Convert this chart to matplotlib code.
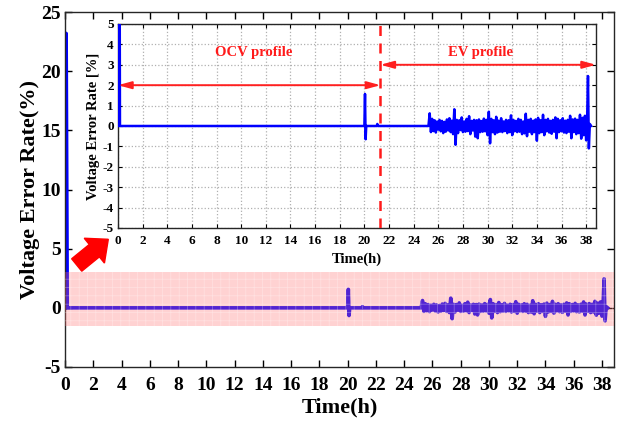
import numpy as np
import matplotlib
matplotlib.use("Agg")
import matplotlib.pyplot as plt
from matplotlib.patches import FancyArrow

plt.rcParams['font.family'] = ['Liberation Serif', 'DejaVu Serif']
plt.rcParams['font.weight'] = 'bold'
plt.rcParams['axes.labelweight'] = 'bold'
plt.rcParams['axes.unicode_minus'] = False
plt.rcParams['hatch.linewidth'] = 0.5

# ---------------- data ----------------
# quiet (OCV) part: time (h), error (%)
t_quiet = [0.0, 0.08, 0.16, 20.0, 20.05, 20.1, 20.15, 21.0, 21.05, 21.1, 25.2]
v_quiet = [0.0, 23.2, 0.0, 0.0, 1.57, -0.65, 0.0, 0.0, 0.1, 0.0, 0.0]

# EV profile part, sampled every 0.1 h from 25.3 h to 38.0 h
noise_start = 25.3
noise_step = 0.1
v_noise = [
    0.62, -0.30, 0.35, -0.25, 0.28, -0.32, 0.22, -0.18, 0.30, -0.26,
    0.25, -0.35, 0.20, -0.28, 0.32, -0.22, 0.38, -0.30, 0.26, -0.40,
    0.82, -0.92, 0.30, -0.35, 0.28, -0.20, 0.42, -0.30, 0.22, -0.28,
    0.35, -0.25, 0.48, -0.40, 0.25, -0.22, 0.30, -0.52, 0.28, -0.60,
    0.32, -0.30, 0.24, -0.28, 0.36, -0.26, 0.30, -0.45, 0.70, -0.85,
    0.35, -0.30, 0.28, -0.40, 0.45, -0.32, 0.26, -0.28, 0.38, -0.30,
    0.22, -0.25, 0.30, -0.35, 0.28, -0.30, 0.52, -0.45, 0.30, -0.26,
    0.25, -0.30, 0.35, -0.28, 0.30, -0.40, 0.22, -0.36, 0.60, -0.50,
    0.30, -0.28, 0.35, -0.40, 0.26, -0.30, 0.32, -0.72, 0.40, -0.35,
    0.28, -0.30, 0.55, -0.45, 0.30, -0.26, 0.35, -0.32, 0.25, -0.38,
    0.30, -0.28, 0.42, -0.60, 0.35, -0.30, 0.28, -0.26, 0.38, -0.32,
    0.26, -0.35, 0.30, -0.28, 0.50, -0.60, 0.32, -0.30, 0.36, -0.40,
    0.30, -0.35, 0.55, -0.62, 0.40, -0.45, 0.50, -0.70,
]
# end of test
t_end = [38.08, 38.15, 38.22, 38.3, 38.4]
v_end = [0.3, 2.45, -1.1, 0.1, 0.0]

t_noise = list(noise_start + noise_step * np.arange(len(v_noise)))
t_all = np.array(t_quiet + t_noise + t_end)
v_all = np.array(v_quiet + v_noise + v_end)

main_xticks = list(range(0, 40, 2))
main_yticks = [-5, 0, 5, 10, 15, 20, 25]
inset_yticks = [-5, -4, -3, -2, -1, 0, 1, 2, 3, 4, 5]

band_low, band_high = -1.5, 3.0
split_time = 21.3
x_max = 38.85

# ---------------- figure ----------------
fig = plt.figure(figsize=(6.22, 4.23), dpi=100)
ax = fig.add_axes([0.1045, 0.1324, 0.8826, 0.839])

ax.plot(t_all, v_all, color='#0000ff', lw=2.6, zorder=2)
ax.axhspan(band_low, band_high, facecolor=(1.0, 0.45, 0.45, 0.32), lw=0, zorder=3)
ax.axhspan(band_low, band_high, facecolor='none',
           edgecolor=(1.0, 1.0, 1.0, 0.35), hatch='++', lw=0, zorder=3)
ax.set_xlim(0, x_max)
ax.set_ylim(-5, 25)
ax.set_xticks(main_xticks)
ax.set_yticks(main_yticks)
ax.tick_params(direction='in', top=True, right=True, labelsize=14, length=5,
               width=1, pad=7)
ax.tick_params(axis='y', pad=3)
for lab in ax.get_xticklabels() + ax.get_yticklabels():
    lab.set_fontweight('bold')
ax.set_xlabel('Time(h)', fontsize=16, fontweight='bold', labelpad=3)
ax.set_ylabel('Voltage Error Rate(%)', fontsize=16, fontweight='bold', labelpad=1)
for s in ax.spines.values():
    s.set_linewidth(1.0)
    s.set_color('#262626')

# ---------------- inset ----------------
axi = fig.add_axes([0.1897, 0.461, 0.7685, 0.4823])
axi.set_facecolor('white')
axi.grid(True, color='#b0b0b0', linestyle=':', lw=0.9)
axi.set_axisbelow(True)
axi.plot(t_all, v_all, color='#0000ff', lw=1.8, zorder=3)
axi.axvline(split_time, color='#ff1a1a', lw=1.8, ls=(0, (4, 3)), zorder=4)
axi.annotate('', xy=(0, 2.0), xytext=(split_time, 2.0),
             arrowprops=dict(arrowstyle='<|-|>,head_length=0.8,head_width=0.22',
                             color='#ff2020', lw=1.4, shrinkA=0, shrinkB=0))
axi.annotate('', xy=(split_time, 3.0), xytext=(x_max - 0.05, 3.0),
             arrowprops=dict(arrowstyle='<|-|>,head_length=0.8,head_width=0.22',
                             color='#ff2020', lw=1.4, shrinkA=0, shrinkB=0))
axi.text(11.0, 3.6, 'OCV profile', color='#ff1a1a', fontsize=10.5,
         fontweight='bold', ha='center', va='center')
axi.text(29.4, 3.6, 'EV profile', color='#ff1a1a', fontsize=10.5,
         fontweight='bold', ha='center', va='center')
axi.set_xlim(0, 38.8)
axi.set_ylim(-5, 5)
axi.set_xticks(main_xticks)
axi.set_yticks(inset_yticks)
axi.tick_params(direction='in', top=True, right=True, labelsize=9.5, length=3,
                width=0.8, pad=3)
axi.tick_params(axis='x', pad=5)
for lab in axi.get_xticklabels() + axi.get_yticklabels():
    lab.set_fontweight('bold')
axi.set_xlabel('Time(h)', fontsize=10.5, fontweight='bold', labelpad=4)
axi.set_ylabel('Voltage Error Rate [%]', fontsize=10.5, fontweight='bold', labelpad=2)
for s in axi.spines.values():
    s.set_linewidth(1.0)
    s.set_color('#262626')

# big red pointer arrow (in inches)
arr = FancyArrow(0.767, (423 - 265) / 100, 0.316, 0.257, width=0.16,
                 head_width=0.32, head_length=0.18, length_includes_head=True,
                 color='#ff0000', transform=fig.dpi_scale_trans)
fig.patches.append(arr)

fig.savefig('out.png', dpi=100)
